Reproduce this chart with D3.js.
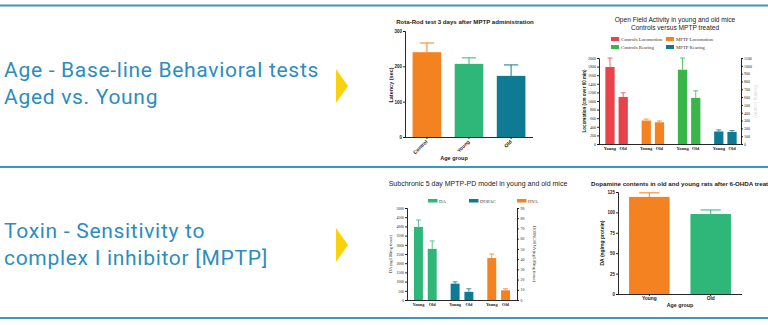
<!DOCTYPE html>
<html>
<head>
<meta charset="utf-8">
<script src="https://cdn.jsdelivr.net/npm/d3@7"></script>
<style>
  html, body { margin: 0; padding: 0; background: #fff; }
  svg { display: block; }
  .tick text { fill: #222; }
</style>
</head>
<body>
<div id="chart"></div>
<script>
// slide headings
const headings = [
  ["Age - Base-line Behavioral tests", "Aged vs. Young"],
  ["Toxin - Sensitivity to", "complex I inhibitor [MPTP]"]
];

// Rota-Rod
const rotaGroups = ["Control", "Young", "Old"];
const rotaMeans = [240, 207, 173];
const rotaSem = [26, 17, 31];
const rotaTicks = [0, 100, 200, 300];

// Open field
const ofGroups = ["Young", "Old"];
const ofSeries = ["Controls Locomotion", "MPTP Locomotion", "Controls Rearing", "MPTP Rearing"];
const ofControlsLoco = [1790, 1095];
const ofControlsLocoSem = [210, 95];
const ofMptpLoco = [545, 505];
const ofMptpLocoSem = [35, 30];
const ofControlsRear = [950, 590];
const ofControlsRearSem = [150, 90];
const ofMptpRear = [160, 155];
const ofMptpRearSem = [20, 18];

// Subchronic MPTP
const subGroups = ["Young", "Old"];
const subSeries = ["DA", "DOPAC", "HVA"];
const subDA = [3970, 2780];
const subDASem = [380, 430];
const subDOPAC = [16, 8];
const subDOPACSem = [1.8, 3];
const subHVA = [41, 9.5];
const subHVASem = [4, 1.5];

// Dopamine 6-OHDA
const daGroups = ["Young", "Old"];
const daMeans = [119, 98];
const daSem = [5, 5];

const W = 768, H = 325;
const blue = "#2c8dbf";
const cRed = "#e8434b", cOrange = "#f58220", cGreen = "#3ab54a",
      cMint = "#2fb77a", cTeal = "#0e7a94";

const svg = d3.select("#chart").append("svg")
  .attr("width", W).attr("height", H);

// separator lines
[5.5, 167, 318].forEach(y => {
  svg.append("line")
    .attr("x1", 0).attr("x2", W).attr("y1", y).attr("y2", y)
    .attr("stroke", "#3a97c2").attr("stroke-width", 2);
});

// headings + arrows
const headY = [[77, 104], [238, 265]];
headings.forEach((lines, i) => {
  lines.forEach((t, j) => {
    svg.append("text")
      .attr("x", 4).attr("y", headY[i][j])
      .attr("font-family", "Roboto")
      .attr("font-size", 21)
      .attr("letter-spacing", 0.7)
      .attr("fill", blue)
      .text(t);
  });
  const ty = [69, 228][i];
  svg.append("path")
    .attr("d", `M336,${ty} L348,${ty + 17} L336,${ty + 34} Z`)
    .attr("fill", "#f9d20b");
});

function styleAxis(g, size) {
  g.selectAll("path, line").attr("stroke", "#111").attr("stroke-width", 0.9);
  g.selectAll("text").attr("font-size", size);
}

function errBars(g, data, x, y, capW) {
  g.selectAll(null).data(data).enter().append("path")
    .attr("d", d => {
      const cx = x(d) ;
      const y0 = y(d.v), y1 = y(d.v + d.e);
      return `M${cx},${y0}V${y1}M${cx - capW / 2},${y1}H${cx + capW / 2}`;
    })
    .attr("fill", "none").attr("stroke", d => d.c).attr("stroke-width", 1);
}

// ---------- Rota-Rod ----------
{
  const g = svg.append("g").attr("font-family", "Liberation Sans");
  const x = d3.scaleBand().domain(rotaGroups).range([405, 533]).paddingInner(0.32).paddingOuter(0.18);
  const y = d3.scaleLinear().domain([0, 300]).range([137, 31]);
  const cols = [cOrange, cMint, cTeal];
  const data = rotaGroups.map((k, i) => ({ k, v: rotaMeans[i], e: rotaSem[i], c: cols[i] }));

  g.append("text").attr("x", 465).attr("y", 24).attr("text-anchor", "middle")
    .attr("font-size", 6.1).attr("font-weight", "bold").attr("fill", "#222")
    .text("Rota-Rod test 3 days after MPTP administration");

  errBars(g, data, d => x(d.k) + x.bandwidth() / 2, y, x.bandwidth() * 0.5);
  g.selectAll(null).data(data).enter().append("rect")
    .attr("x", d => x(d.k)).attr("width", x.bandwidth())
    .attr("y", d => y(d.v)).attr("height", d => y(0) - y(d.v))
    .attr("fill", d => d.c);

  const ya = g.append("g").attr("transform", "translate(405,0)")
    .call(d3.axisLeft(y).tickValues(rotaTicks).tickSize(2).tickPadding(1));
  styleAxis(ya, 4.5);
  ya.selectAll("text").attr("font-weight", "bold");
  const xa = g.append("g").attr("transform", "translate(0,137)")
    .call(d3.axisBottom(x).tickSize(2).tickSizeOuter(0));
  xa.select(".domain").attr("d", "M405,0.5H533");
  styleAxis(xa, 5);
  xa.selectAll("text").attr("font-weight", "bold")
    .attr("text-anchor", "end").attr("dy", 0)
    .attr("transform", "translate(1,5) rotate(-45)").attr("y", 0).attr("x", 0);

  g.append("text").attr("x", 454).attr("y", 159.5).attr("text-anchor", "middle")
    .attr("font-size", 5.5).attr("font-weight", "bold").attr("fill", "#222").text("Age group");
  g.append("text").attr("transform", "translate(393,85) rotate(-90)").attr("text-anchor", "middle")
    .attr("font-size", 5.5).attr("font-weight", "bold").attr("fill", "#222").text("Latency (sec)");
}

// ---------- Open Field ----------
{
  const g = svg.append("g").attr("font-family", "Liberation Sans");
  const xs = d3.scaleBand().domain(ofSeries).range([601, 741]).paddingInner(0.38).paddingOuter(0.12);
  const xi = d3.scaleBand().domain(ofGroups).range([0, xs.bandwidth()]).paddingInner(0.3);
  const yl = d3.scaleLinear().domain([0, 2000]).range([144, 58]);
  const yr = d3.scaleLinear().domain([0, 1100]).range([144, 58]);
  const cols = [cRed, cOrange, cGreen, cTeal];
  const vals = [ofControlsLoco, ofMptpLoco, ofControlsRear, ofMptpRear];
  const sems = [ofControlsLocoSem, ofMptpLocoSem, ofControlsRearSem, ofMptpRearSem];

  g.append("text").attr("x", 675).attr("y", 22).attr("text-anchor", "middle")
    .attr("font-size", 6.6).attr("fill", "#222").text("Open Field Activity in young and old mice");
  g.append("text").attr("x", 675).attr("y", 30).attr("text-anchor", "middle")
    .attr("font-size", 6.6).attr("fill", "#222").text("Controls versus MPTP treated");

  // legend
  const leg = g.append("g").attr("font-family", "Liberation Serif");
  ofSeries.forEach((s, i) => {
    const lx = i % 2 === 0 ? 611 : 666, ly = i < 2 ? 39 : 47;
    leg.append("rect").attr("x", lx).attr("y", ly - 2).attr("width", 8).attr("height", 4).attr("fill", cols[i]);
    leg.append("text").attr("x", lx + 10).attr("y", ly + 1.6).attr("font-size", 4.8)
      .attr("fill", "#333").text(s);
  });

  const bars = [];
  ofSeries.forEach((s, i) => {
    const y = i < 2 ? yl : yr;
    ofGroups.forEach((gname, j) => {
      bars.push({ s, gname, v: vals[i][j], e: sems[i][j], c: cols[i], y });
    });
  });
  const bx = d => xs(d.s) + xi(d.gname);
  g.selectAll(null).data(bars).enter().append("path")
    .attr("d", d => {
      const cx = bx(d) + xi.bandwidth() / 2, y1 = d.y(d.v + d.e);
      return `M${cx},${d.y(d.v)}V${y1}M${cx - 2.5},${y1}H${cx + 2.5}`;
    })
    .attr("fill", "none").attr("stroke", d => d.c).attr("stroke-width", 0.8);
  g.selectAll(null).data(bars).enter().append("rect")
    .attr("x", bx).attr("width", xi.bandwidth())
    .attr("y", d => d.y(d.v)).attr("height", d => d.y(0) - d.y(d.v))
    .attr("fill", d => d.c);

  const la = g.append("g").attr("transform", "translate(599,0)")
    .call(d3.axisLeft(yl).tickValues(d3.range(0, 2001, 200)).tickSize(2).tickPadding(1).tickFormat(d3.format("d")));
  styleAxis(la, 4);
  la.selectAll("text").attr("font-family", "Liberation Serif");
  const ra = g.append("g").attr("transform", "translate(741,0)")
    .call(d3.axisRight(yr).tickValues(d3.range(0, 1101, 100)).tickSize(2).tickPadding(1).tickFormat(d3.format("d")));
  styleAxis(ra, 4);
  ra.selectAll("text").attr("font-family", "Liberation Serif");
  g.append("line").attr("x1", 599).attr("x2", 741).attr("y1", 144.5).attr("y2", 144.5)
    .attr("stroke", "#111").attr("stroke-width", 0.9);

  g.selectAll(null).data(bars).enter().append("text")
    .attr("x", d => bx(d) + xi.bandwidth() / 2).attr("y", 150)
    .attr("text-anchor", "middle").attr("font-family", "Liberation Serif")
    .attr("font-weight", "bold").attr("font-size", 4.5).attr("fill", "#222")
    .text(d => d.gname);

  g.append("text").attr("transform", "translate(586,101) rotate(-90)").attr("text-anchor", "middle")
    .attr("font-size", 4.5).attr("font-weight", "bold").attr("fill", "#222").text("Locomotion (cm over 60 min)");
  g.append("text").attr("transform", "translate(754,101) rotate(90)").attr("text-anchor", "middle")
    .attr("font-size", 4.5).attr("fill", "#ddd").text("Rearing (counts)");
}

// ---------- Subchronic MPTP ----------
{
  const g = svg.append("g").attr("font-family", "Liberation Sans");
  const xs = d3.scaleBand().domain(subSeries).range([407, 517]).paddingInner(0.38).paddingOuter(0.19);
  const xi = d3.scaleBand().domain(subGroups).range([0, xs.bandwidth()]).paddingInner(0.35);
  const yl = d3.scaleLinear().domain([0, 5000]).range([300, 208]);
  const yr = d3.scaleLinear().domain([0, 90]).range([300, 208]);
  const cols = [cMint, cTeal, cOrange];
  const vals = [subDA, subDOPAC, subHVA];
  const sems = [subDASem, subDOPACSem, subHVASem];

  g.append("text").attr("x", 478).attr("y", 185.5).attr("text-anchor", "middle")
    .attr("font-size", 7).attr("fill", "#222").text("Subchronic 5 day MPTP-PD model in young and old mice");

  const legX = [428, 469, 517];
  subSeries.forEach((s, i) => {
    g.append("rect").attr("x", legX[i]).attr("y", 199).attr("width", 9.5).attr("height", 3.5).attr("fill", cols[i]);
    g.append("text").attr("x", legX[i] + 11).attr("y", 202.5).attr("font-family", "Liberation Serif")
      .attr("font-size", 4.8).attr("fill", "#333").text(s);
  });

  const bars = [];
  subSeries.forEach((s, i) => {
    const y = i === 0 ? yl : yr;
    subGroups.forEach((gname, j) => bars.push({ s, gname, v: vals[i][j], e: sems[i][j], c: cols[i], y }));
  });
  const bx = d => xs(d.s) + xi(d.gname);
  g.selectAll(null).data(bars).enter().append("path")
    .attr("d", d => {
      const cx = bx(d) + xi.bandwidth() / 2, y1 = d.y(d.v + d.e);
      return `M${cx},${d.y(d.v)}V${y1}M${cx - 2.5},${y1}H${cx + 2.5}`;
    })
    .attr("fill", "none").attr("stroke", d => d.c).attr("stroke-width", 0.8);
  g.selectAll(null).data(bars).enter().append("rect")
    .attr("x", bx).attr("width", xi.bandwidth())
    .attr("y", d => d.y(d.v)).attr("height", d => d.y(0) - d.y(d.v))
    .attr("fill", d => d.c);

  const la = g.append("g").attr("transform", "translate(407,0)")
    .call(d3.axisLeft(yl).tickValues(d3.range(0, 5001, 500)).tickSize(2).tickPadding(1).tickFormat(d3.format("d")));
  styleAxis(la, 3.8);
  la.selectAll("text").attr("font-family", "Liberation Serif");
  const ra = g.append("g").attr("transform", "translate(517,0)")
    .call(d3.axisRight(yr).tickValues(d3.range(0, 91, 10)).tickSize(2).tickPadding(1.5));
  styleAxis(ra, 3.8);
  ra.selectAll("text").attr("font-family", "Liberation Serif");
  g.append("line").attr("x1", 407).attr("x2", 517).attr("y1", 300.5).attr("y2", 300.5)
    .attr("stroke", "#111").attr("stroke-width", 0.9);

  g.selectAll(null).data(bars).enter().append("text")
    .attr("x", d => bx(d) + xi.bandwidth() / 2).attr("y", 306)
    .attr("text-anchor", "middle").attr("font-family", "Liberation Serif")
    .attr("font-weight", "bold").attr("font-size", 4.3).attr("fill", "#222")
    .text(d => d.gname);

  g.append("text").attr("transform", "translate(392,254) rotate(-90)").attr("text-anchor", "middle")
    .attr("font-family", "Liberation Serif").attr("font-size", 4.3).attr("fill", "#222").text("DA (ng/100mg tissue)");
  g.append("text").attr("transform", "translate(533,254) rotate(90)").attr("text-anchor", "middle")
    .attr("font-family", "Liberation Serif").attr("font-size", 4.3).attr("fill", "#222").text("DOPAC/HVA (ng/100mg tissue)");
}

// ---------- Dopamine 6-OHDA ----------
{
  const g = svg.append("g").attr("font-family", "Liberation Sans");
  const x = d3.scaleBand().domain(daGroups).range([618, 742]).paddingInner(0.34).paddingOuter(0.18);
  const y = d3.scaleLinear().domain([0, 125]).range([294, 192]);
  const cols = [cOrange, cMint];
  const data = daGroups.map((k, i) => ({ k, v: daMeans[i], e: daSem[i], c: cols[i] }));

  // title runs off the right edge, as on the slide
  g.append("text").attr("x", 591).attr("y", 185.5)
    .attr("font-size", 6.2).attr("font-weight", "bold").attr("fill", "#222")
    .text("Dopamine contents in old and young rats after 6-OHDA treatment");

  errBars(g, data, d => x(d.k) + x.bandwidth() / 2, y, x.bandwidth() * 0.5);
  g.selectAll(null).data(data).enter().append("rect")
    .attr("x", d => x(d.k)).attr("width", x.bandwidth())
    .attr("y", d => y(d.v)).attr("height", d => y(0) - y(d.v))
    .attr("fill", d => d.c);

  const ya = g.append("g").attr("transform", "translate(618,0)")
    .call(d3.axisLeft(y).tickValues([0, 25, 50, 75, 100, 125]).tickSize(2).tickPadding(1));
  styleAxis(ya, 4.5);
  ya.selectAll("text").attr("font-weight", "bold");
  const xa = g.append("g").attr("transform", "translate(0,294)")
    .call(d3.axisBottom(x).tickSize(2).tickSizeOuter(0).tickPadding(1));
  xa.select(".domain").attr("d", "M618,0.5H742");
  styleAxis(xa, 4.8);
  xa.selectAll("text").attr("font-weight", "bold");

  g.append("text").attr("x", 680).attr("y", 307).attr("text-anchor", "middle")
    .attr("font-size", 5.3).attr("font-weight", "bold").attr("fill", "#222").text("Age group");
  g.append("text").attr("transform", "translate(604,243) rotate(-90)").attr("text-anchor", "middle")
    .attr("font-size", 5).attr("font-weight", "bold").attr("fill", "#222").text("DA (ng/mg protein)");
}
</script>
</body>
</html>
